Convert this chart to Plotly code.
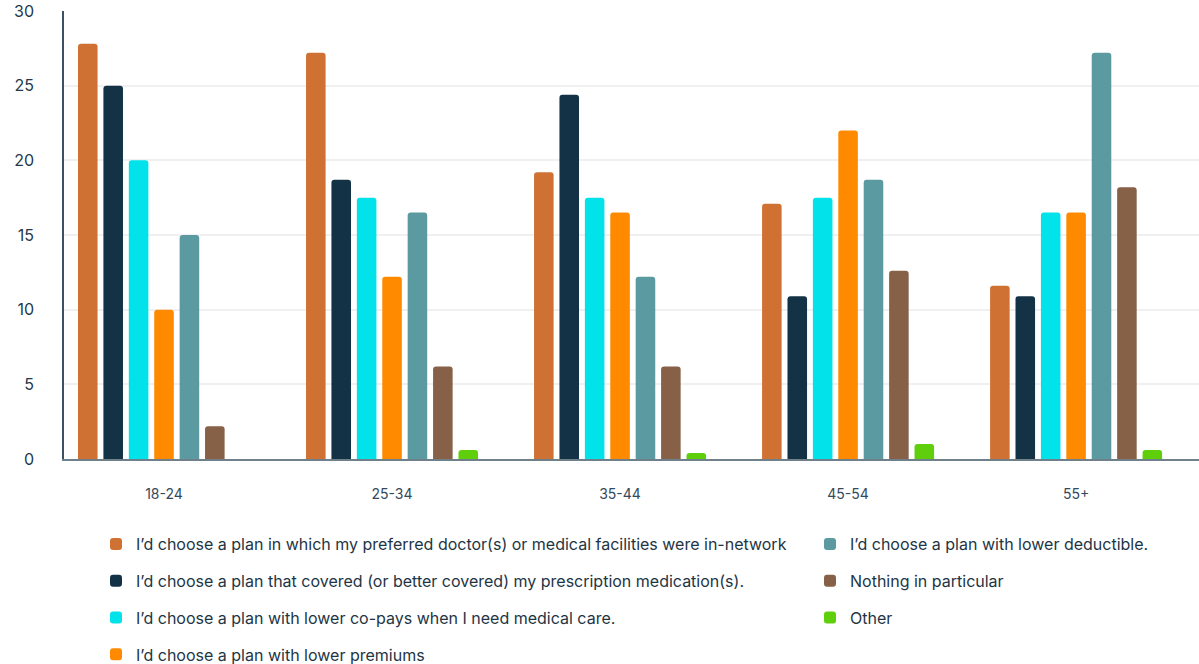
import plotly.graph_objects as go

# Age groups on the category axis
age_groups = ["18-24", "25-34", "35-44", "45-54", "55+"]

# Share of respondents (%) choosing each option, per age group
in_network = [27.8, 27.2, 19.2, 17.1, 11.6]
prescription = [25.0, 18.7, 24.4, 10.9, 10.9]
lower_copays = [20.0, 17.5, 17.5, 17.5, 16.5]
lower_premiums = [10.0, 12.2, 16.5, 22.0, 16.5]
lower_deductible = [15.0, 16.5, 12.2, 18.7, 27.2]
nothing_particular = [2.2, 6.2, 6.2, 12.6, 18.2]
other = [None, 0.6, 0.4, 1.0, 0.6]

y_ticks = [0, 5, 10, 15, 20, 25, 30]

# (label, values, colour, legend, legend rank)
series = [
    ("I’d choose a plan in which my preferred doctor(s) or medical facilities were in-network",
     in_network, "#D07134", "legend", 1),
    ("I’d choose a plan that covered (or better covered) my prescription medication(s).",
     prescription, "#133245", "legend", 2),
    ("I’d choose a plan with lower co-pays when I need medical care.",
     lower_copays, "#02E2EA", "legend", 3),
    ("I’d choose a plan with lower premiums",
     lower_premiums, "#FF8A00", "legend", 4),
    ("I’d choose a plan with lower deductible.",
     lower_deductible, "#5A9AA0", "legend2", 5),
    ("Nothing in particular",
     nothing_particular, "#876147", "legend2", 6),
    ("Other",
     other, "#5FCF0B", "legend2", 7),
]

text_color = "#1E3545"
font_family = "Inter, Roboto, sans-serif"

# categories are placed at integer positions and labelled with their names
x_pos = list(range(len(age_groups)))

fig = go.Figure()
for name, values, color, legend_id, rank in series:
    fig.add_trace(go.Bar(
        x=x_pos,
        y=values,
        name=name,
        marker=dict(color=color, line=dict(width=0)),
        legend=legend_id,
        legendgroup=name,
        legendrank=rank,
    ))

W, H = 1199, 664
legend_common = dict(
    xref="container", yref="container",
    xanchor="left", yanchor="top",
    orientation="v",
    bgcolor="rgba(0,0,0,0)",
    font=dict(family=font_family, size=16, color=text_color),
    tracegroupgap=13,
    itemclick=False, itemdoubleclick=False,
)

fig.update_layout(
    width=W, height=H,
    margin=dict(l=64, r=0, t=11, b=205, autoexpand=False),
    paper_bgcolor="white",
    plot_bgcolor="white",
    barmode="group",
    bargap=0.22,
    bargroupgap=0.23,
    barcornerradius=3,
    font=dict(family=font_family, color=text_color),
    legend=dict(**legend_common, x=96 / W, y=1 - 527 / H),
    legend2=dict(**legend_common, x=810 / W, y=1 - 527 / H),
    xaxis=dict(
        range=[-0.4386, 4.539],
        tickvals=x_pos,
        ticktext=age_groups,
        showgrid=False,
        showline=True,
        linecolor="#6F808B",
        linewidth=2,
        ticks="",
        ticklabelstandoff=21,
        tickfont=dict(family=font_family, size=14, color="#34495A"),
        zeroline=False,
    ),
    yaxis=dict(
        range=[0, 30],
        tickvals=y_ticks,
        ticktext=[str(v) for v in y_ticks],
        showgrid=True,
        gridcolor="#F0F0F0",
        gridwidth=2,
        showline=True,
        linecolor="#3A5262",
        linewidth=1.5,
        zeroline=False,
        ticks="",
        ticklabelstandoff=25,
        tickfont=dict(family=font_family, size=16, color="#24394A"),
    ),
)

fig.write_html("out.html")
